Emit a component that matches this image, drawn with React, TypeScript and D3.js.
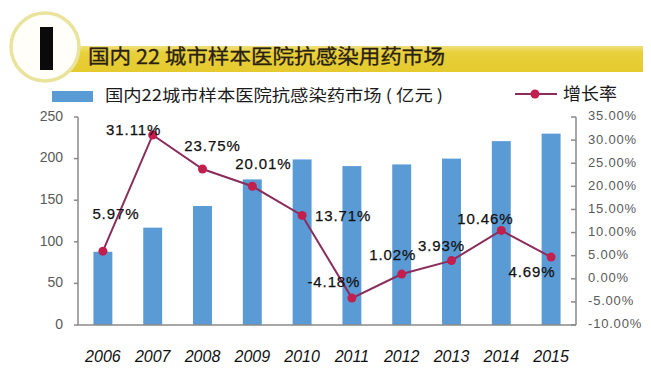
import React from "react";
import * as d3 from "d3";

const years = ["2006", "2007", "2008", "2009", "2010", "2011", "2012", "2013", "2014", "2015"];
const marketValues = [88, 117, 143, 175, 199, 191, 193, 200, 221, 230];
const growthRates = [5.97, 31.11, 23.75, 20.01, 13.71, -4.18, 1.02, 3.93, 10.46, 4.69];
const leftTicks = [0, 50, 100, 150, 200, 250];
const rightTicks = [-10, -5, 0, 5, 10, 15, 20, 25, 30, 35];

const titleText = "国内 22 城市样本医院抗感染用药市场";
const barLegendText = "国内22城市样本医院抗感染药市场 ( 亿元 )";
const lineLegendText = "增长率";

// label placement offsets (layout only)
const labelOffsets: [number, number][] = [
  [13, -36], [-19, -4], [10, -22], [11, -21], [41, 2],
  [-18, -15], [-9, -18], [-10, -14], [-16, -10], [-19, 16],
];

const W = 651, H = 385;
const plot = { left: 78, right: 576, top: 117, bottom: 325 };

export default function App() {
  const x = d3.scaleBand<string>().domain(years).range([plot.left, plot.right]).paddingInner(0.62).paddingOuter(0.31);
  const yL = d3.scaleLinear().domain([0, 250]).range([plot.bottom, plot.top]);
  const yR = d3.scaleLinear().domain([-10, 35]).range([plot.bottom, plot.top]);
  const cx = (y: string) => (x(y) ?? 0) + x.bandwidth() / 2;
  const line = d3.line<number>().x((_, i) => cx(years[i])).y((d) => yR(d));
  const fmtPct = (v: number) => v.toFixed(2) + "%";
  const cjk = "'Noto Sans CJK SC', 'Noto Sans', sans-serif";
  const latin = "Arial, 'Liberation Sans', sans-serif";

  return (
    <svg width={W} height={H} style={{ position: "fixed", left: 0, top: 0, background: "#fff" }}>
      <defs>
        <linearGradient id="band" x1="0" y1="0" x2="0" y2="1">
          <stop offset="0" stopColor="#efe07a" />
          <stop offset="0.25" stopColor="#e8d03c" />
          <stop offset="1" stopColor="#e4ca2e" />
        </linearGradient>
      </defs>
      {/* title banner */}
      <rect x={60} y={46} width={583} height={26} fill="url(#band)" />
      <circle cx={45} cy={47} r={34} fill="#fffef8" stroke="#e9e39c" strokeWidth={3.5} />
      <rect x={40} y={27} width={13} height={43} fill="#0a0a0a" />
      <text x={88} y={59} dominantBaseline="middle" fontFamily={cjk} fontSize={20} fill="#2a2010"
        stroke="#2a2010" strokeWidth={0.3}
        textLength={357} lengthAdjust="spacingAndGlyphs">{titleText}</text>

      {/* legend */}
      <rect x={52} y={91} width={41} height={11} fill="#5b9bd5" />
      <text x={105} y={97} dominantBaseline="middle" fontFamily={cjk} fontSize={16} fill="#1a1a1a"
        textLength={338} lengthAdjust="spacingAndGlyphs">{barLegendText}</text>
      <line x1={515} x2={557} y1={94} y2={94} stroke="#8b2d5c" strokeWidth={2} />
      <circle cx={535} cy={94} r={4.5} fill="#c21e4e" />
      <text x={563} y={95} dominantBaseline="middle" fontFamily={cjk} fontSize={17} fill="#1a1a1a"
        textLength={54} lengthAdjust="spacingAndGlyphs">{lineLegendText}</text>

      {/* bars */}
      {marketValues.map((v, i) => (
        <rect key={years[i]} x={x(years[i])} y={yL(v)} width={x.bandwidth()} height={yL(0) - yL(v)} fill="#5b9bd5" />
      ))}

      {/* axes */}
      <line x1={plot.left} x2={plot.left} y1={plot.top} y2={plot.bottom} stroke="#8a8a8a" strokeWidth={1.5} />
      <line x1={plot.right} x2={plot.right} y1={plot.top} y2={plot.bottom} stroke="#8a8a8a" strokeWidth={1.5} />
      <line x1={plot.left} x2={plot.right} y1={plot.bottom} y2={plot.bottom} stroke="#8a8a8a" strokeWidth={1.5} />
      {leftTicks.map((t) => (
        <g key={"l" + t}>
          <line x1={plot.left - 4} x2={plot.left} y1={yL(t)} y2={yL(t)} stroke="#8a8a8a" strokeWidth={1.5} />
          <text x={63} y={yL(t)} textAnchor="end" dominantBaseline="middle" fontFamily={latin} fontSize={14} fill="#5a5a5a">{t}</text>
        </g>
      ))}
      {rightTicks.map((t) => (
        <g key={"r" + t}>
          <line x1={plot.right - 5} x2={plot.right} y1={yR(t)} y2={yR(t)} stroke="#8a8a8a" strokeWidth={1.5} />
          <text x={588} y={yR(t)} dominantBaseline="middle" fontFamily={latin} fontSize={13} fill="#5a5a5a" letterSpacing={0.8}>{fmtPct(t)}</text>
        </g>
      ))}
      {years.map((y) => (
        <text key={"x" + y} x={cx(y)} y={358} textAnchor="middle" dominantBaseline="middle" fontFamily={latin}
          fontStyle="italic" fontSize={16} fill="#111">{y}</text>
      ))}

      {/* growth line */}
      <path d={line(growthRates) ?? ""} fill="none" stroke="#8b2d5c" strokeWidth={2} />
      {growthRates.map((g, i) => (
        <circle key={"p" + i} cx={cx(years[i])} cy={yR(g)} r={4.5} fill="#c21e4e" />
      ))}
      {growthRates.map((g, i) => (
        <text key={"t" + i} x={cx(years[i]) + labelOffsets[i][0]} y={yR(g) + labelOffsets[i][1]} textAnchor="middle"
          dominantBaseline="middle" fontFamily={latin} fontSize={15} fill="#111" stroke="#111" strokeWidth={0.25}
          letterSpacing={0.9}>{fmtPct(g)}</text>
      ))}
    </svg>
  );
}
